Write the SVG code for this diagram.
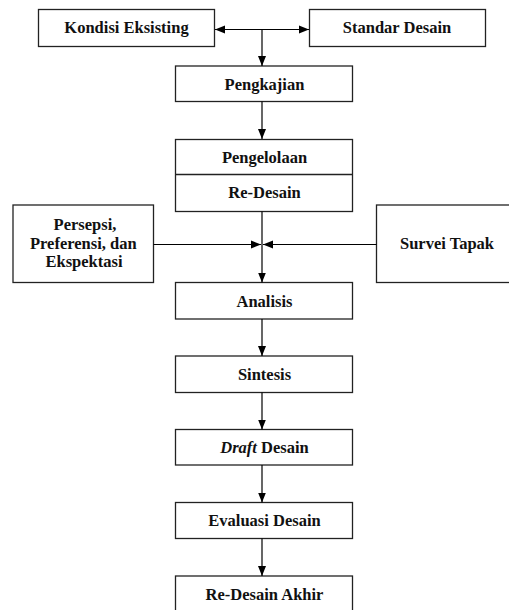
<svg xmlns="http://www.w3.org/2000/svg" width="509" height="610" viewBox="0 0 509 610">
<defs>
<marker id="ah" viewBox="0 0 10 10" refX="10" refY="5" markerWidth="10" markerHeight="10" markerUnits="userSpaceOnUse" orient="auto">
<path d="M0,1 L10,5 L0,9 Z" fill="#000"/>
</marker>
<style>
.box{fill:#fff;stroke:#222;stroke-width:1.3}
.t{font-family:"Liberation Serif","Times New Roman",serif;font-weight:bold;font-size:16.5px;fill:#111;text-anchor:middle}
.c{fill:none;stroke:#000;stroke-width:1.2}
</style>
</defs>
<rect width="509" height="610" fill="#fff"/>
<g id="kondisi"><rect class="box" x="38.5" y="9.5" width="176" height="37"/><text class="t" x="126.5" y="33.3">Kondisi Eksisting</text></g>
<g id="standar"><rect class="box" x="309.5" y="9.5" width="176" height="37"/><text class="t" x="397" y="33.3">Standar Desain</text></g>
<g id="pengkajian"><rect class="box" x="175.5" y="66" width="177" height="35.5"/><text class="t" x="264.5" y="89.5">Pengkajian</text></g>
<g id="pengelolaan"><rect class="box" x="175.5" y="139.5" width="177" height="72"/><line x1="175.5" y1="174.5" x2="352.5" y2="174.5" stroke="#222" stroke-width="1.3"/><text class="t" x="264.5" y="163.3">Pengelolaan</text><text class="t" x="264.5" y="198.3">Re-Desain</text></g>
<g id="persepsi"><rect class="box" x="13" y="205" width="140.5" height="77.5"/><text class="t" x="85" y="229.5">Persepsi,</text><text class="t" x="83.3" y="248.5">Preferensi, dan</text><text class="t" x="84" y="267.3">Ekspektasi</text></g>
<g id="survei"><rect class="box" x="376.5" y="205" width="140" height="77.5"/><text class="t" x="447" y="248.5">Survei Tapak</text></g>
<g id="analisis"><rect class="box" x="175.5" y="282.5" width="177" height="36.5"/><text class="t" x="264.5" y="306.5">Analisis</text></g>
<g id="sintesis"><rect class="box" x="175.5" y="356" width="177" height="36.5"/><text class="t" x="264.5" y="380">Sintesis</text></g>
<g id="draft"><rect class="box" x="175.5" y="429.5" width="177" height="35.5"/><text class="t" x="264.5" y="453"><tspan font-style="italic">Draft</tspan> Desain</text></g>
<g id="evaluasi"><rect class="box" x="175.5" y="502.5" width="177" height="36"/><text class="t" x="264.5" y="526">Evaluasi Desain</text></g>
<g id="redesainakhir"><rect class="box" x="175.5" y="576" width="177" height="40"/><text class="t" x="264.5" y="599.5">Re-Desain Akhir</text></g>
<g id="connectors">
<line class="c" x1="262" y1="29.5" x2="215" y2="29.5" marker-end="url(#ah)"/>
<line class="c" x1="262" y1="29.5" x2="309" y2="29.5" marker-end="url(#ah)"/>
<line class="c" x1="262" y1="29.5" x2="262" y2="66" marker-end="url(#ah)"/>
<line class="c" x1="262" y1="101.5" x2="262" y2="139" marker-end="url(#ah)"/>
<line class="c" x1="153.5" y1="244.5" x2="261" y2="244.5" marker-end="url(#ah)"/>
<line class="c" x1="376.5" y1="244.5" x2="263" y2="244.5" marker-end="url(#ah)"/>
<line class="c" x1="262" y1="211.5" x2="262" y2="282.5" marker-end="url(#ah)"/>
<line class="c" x1="262" y1="319" x2="262" y2="356" marker-end="url(#ah)"/>
<line class="c" x1="262" y1="392.5" x2="262" y2="429.5" marker-end="url(#ah)"/>
<line class="c" x1="262" y1="465" x2="262" y2="502.5" marker-end="url(#ah)"/>
<line class="c" x1="262" y1="538.5" x2="262" y2="576" marker-end="url(#ah)"/>
</g>
</svg>
